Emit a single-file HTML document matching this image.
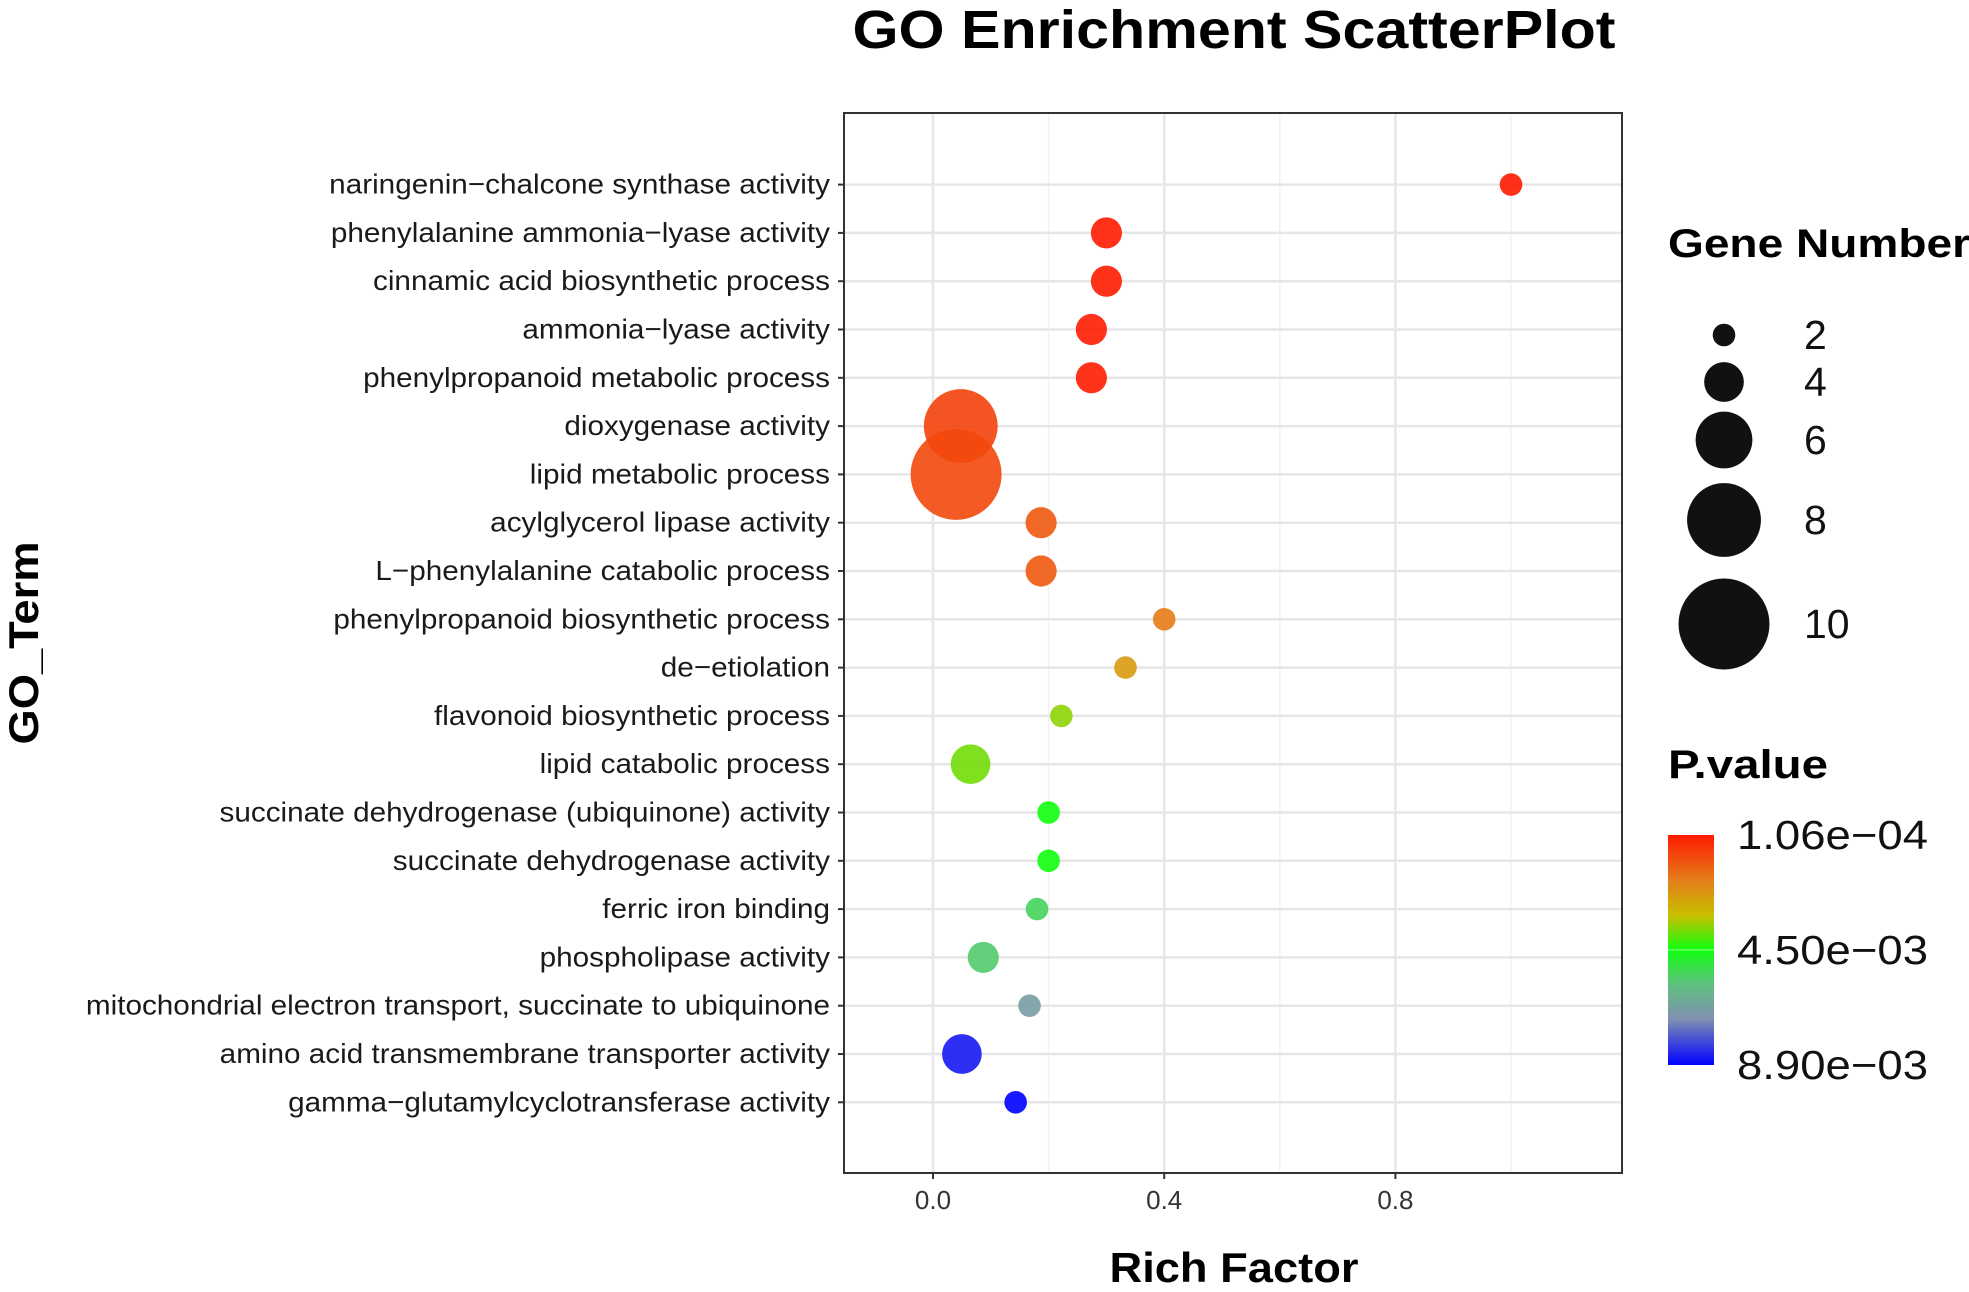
<!DOCTYPE html>
<html><head><meta charset="utf-8"><style>
html,body{margin:0;padding:0;background:#fff;}
svg{display:block;font-family:"Liberation Sans",Arial,sans-serif;}
</style></head><body>
<svg id="chart" width="1969" height="1292" viewBox="0 0 1969 1292">
<defs>
<linearGradient id="pgrad" x1="0" y1="0" x2="0" y2="1">
<stop offset="0" stop-color="#ff1a00"/>
<stop offset="0.2" stop-color="#e4801a"/>
<stop offset="0.35" stop-color="#c8c000"/>
<stop offset="0.5" stop-color="#10ff10"/>
<stop offset="0.65" stop-color="#60c080"/>
<stop offset="0.8" stop-color="#8090b0"/>
<stop offset="1" stop-color="#0000ff"/>
</linearGradient>
</defs>
<text x="1234" y="48" text-anchor="middle" font-size="54" font-weight="bold" textLength="763" lengthAdjust="spacingAndGlyphs">GO Enrichment ScatterPlot</text>
<g id="grid"></g>
<g id="points"></g>
<rect x="844" y="113" width="778" height="1060" fill="none" stroke="#333" stroke-width="2"/>
<g id="ylabels"></g>
<g id="xlabels"></g>
<text x="1234" y="1282" text-anchor="middle" font-size="42" font-weight="bold" textLength="249" lengthAdjust="spacingAndGlyphs">Rich Factor</text>
<text transform="translate(38,643) rotate(-90)" text-anchor="middle" font-size="42" font-weight="bold" textLength="203" lengthAdjust="spacingAndGlyphs">GO_Term</text>
<text x="1668" y="257" font-size="40" font-weight="bold" textLength="302" lengthAdjust="spacingAndGlyphs">Gene Number</text>
<g id="sizelegend"></g>
<text x="1668" y="778" font-size="40" font-weight="bold" textLength="160" lengthAdjust="spacingAndGlyphs">P.value</text>
<rect x="1668" y="835" width="46" height="230" fill="url(#pgrad)"/>
<line x1="1668" y1="950" x2="1714" y2="950" stroke="#fff" stroke-width="1" opacity="0.6"/>
<g id="colorlegend"></g>
</svg>
<script>
const terms = ["naringenin\u2212chalcone synthase activity","phenylalanine ammonia\u2212lyase activity","cinnamic acid biosynthetic process","ammonia\u2212lyase activity","phenylpropanoid metabolic process","dioxygenase activity","lipid metabolic process","acylglycerol lipase activity","L\u2212phenylalanine catabolic process","phenylpropanoid biosynthetic process","de\u2212etiolation","flavonoid biosynthetic process","lipid catabolic process","succinate dehydrogenase (ubiquinone) activity","succinate dehydrogenase activity","ferric iron binding","phospholipase activity","mitochondrial electron transport, succinate to ubiquinone","amino acid transmembrane transporter activity","gamma\u2212glutamylcyclotransferase activity"];
const richFactor = [1.0,0.30,0.30,0.274,0.274,0.048,0.04,0.187,0.187,0.40,0.333,0.222,0.065,0.2,0.2,0.18,0.087,0.167,0.05,0.143];
const geneNumber = [2,3,3,3,3,8,10,3,3,2,2,2,4,2,2,2,3,2,4,2];
const pValue = [0.000106,0.00012,0.00012,0.00015,0.00015,0.0008,0.0009,0.0012,0.0012,0.0018,0.0024,0.0036,0.0038,0.0045,0.0045,0.0054,0.0056,0.0068,0.0086,0.0089];
const xTicks = [0.0,0.4,0.8];
const xTickLabels = ["0.0","0.4","0.8"];
const xMinor = [0.2,0.6,1.0];
const sizeBreaks = [2,4,6,8,10];
const colorBreaks = [0.000106,0.0045,0.0089];
const colorBreakLabels = ["1.06e\u221204","4.50e\u221203","8.90e\u221203"];

const NS="http://www.w3.org/2000/svg";
const X0=844,X1=1622,Y0=113,Y1=1173;
const xs = v => 933 + v*578;
const ys = i => 184.6 + i*48.3;
const rs = n => 11.3 + 4.27*(n-2);
const pMin=0.000106,pMax=0.0089;
const pToT = p => (p-pMin)/(pMax-pMin);
const stops=[[0,[255,26,0]],[0.2,[228,128,26]],[0.35,[200,192,0]],[0.5,[16,255,16]],[0.65,[96,192,128]],[0.8,[128,144,176]],[1,[0,0,255]]];
function col(p){let t=Math.max(0,Math.min(1,pToT(p)));for(let i=1;i<stops.length;i++){if(t<=stops[i][0]){const a=stops[i-1],b=stops[i];const f=(t-a[0])/(b[0]-a[0]);const c=a[1].map((v,k)=>Math.round(v+(b[1][k]-v)*f));return `rgb(${c.join(',')})`;}}return 'rgb(0,0,255)';}
function mk(tag,attrs,parent){const e=document.createElementNS(NS,tag);for(const k in attrs)e.setAttribute(k,attrs[k]);parent.appendChild(e);return e;}
const grid=document.getElementById('grid');
xMinor.forEach(v=>{const l=mk('line',{x1:xs(v),x2:xs(v),y1:Y0,y2:Y1,stroke:'#f2f2f2','stroke-width':1.5},grid);

});
xTicks.forEach(v=>{const l=mk('line',{x1:xs(v),x2:xs(v),y1:Y0,y2:Y1,stroke:'#e6e6e6','stroke-width':2.5},grid);

});
terms.forEach((t,i)=>{const l=mk('line',{x1:X0,x2:X1,y1:ys(i),y2:ys(i),stroke:'#e6e6e6','stroke-width':2.5},grid);

});
const pts=document.getElementById('points');
terms.forEach((t,i)=>{const c=mk('circle',{cx:xs(richFactor[i]),cy:ys(i),r:rs(geneNumber[i]),fill:col(pValue[i]),'fill-opacity':0.9},pts);

});
const yl=document.getElementById('ylabels');
terms.forEach((t,i)=>{const e=mk('text',{x:830,y:ys(i)+9,'text-anchor':'end','font-size':28,fill:'#1a1a1a'},yl);e.textContent=t;


const w=e.getComputedTextLength();
e.setAttribute('textLength',(w*1.06).toFixed(1));
e.setAttribute('lengthAdjust','spacingAndGlyphs');
const tk=mk('line',{x1:838,x2:844,y1:ys(i),y2:ys(i),stroke:'#333','stroke-width':2},yl);

});
const xl=document.getElementById('xlabels');
xTicks.forEach((v,i)=>{const e=mk('text',{x:xs(v),y:1209,'text-anchor':'middle','font-size':26,fill:'#333'},xl);e.textContent=xTickLabels[i];


const tk=mk('line',{x1:xs(v),x2:xs(v),y1:Y1,y2:Y1+6,stroke:'#333','stroke-width':2},xl);

});
const sl=document.getElementById('sizelegend');
const legY=[335,382,440,520,624];
sizeBreaks.forEach((n,i)=>{const c=mk('circle',{cx:1724,cy:legY[i],r:rs(n),fill:'#111'},sl);


const e=mk('text',{x:1804,y:legY[i]+14,'font-size':41,fill:'#111'},sl);e.textContent=n;

});
const cl=document.getElementById('colorlegend');
colorBreaks.forEach((p,i)=>{const y=835+pToT(p)*230;const e=mk('text',{x:1737,y:y+14,'font-size':41,fill:'#111',textLength:191,lengthAdjust:'spacingAndGlyphs'},cl);e.textContent=colorBreakLabels[i];

});
</script>
</body></html>
